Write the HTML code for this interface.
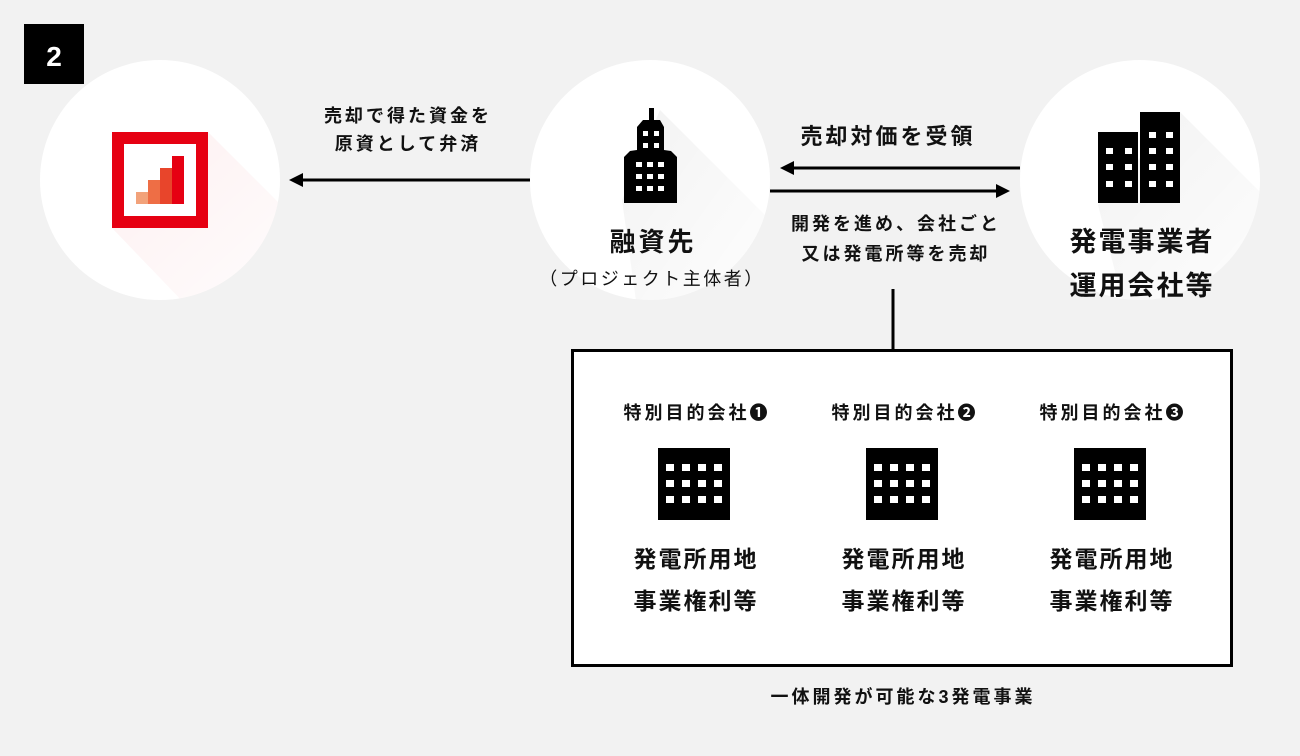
<!DOCTYPE html>
<html><head><meta charset="utf-8"><style>
body{margin:0;width:1300px;height:756px;background:#f2f2f2;overflow:hidden;position:relative;font-family:"Liberation Sans","Noto Sans CJK JP",sans-serif;color:#111}
.a{position:absolute}
.t{position:absolute;font-weight:bold;text-align:center;white-space:nowrap}
</style></head><body>
<svg class="a" style="left:0;top:0" width="1300" height="756">
<defs>
<linearGradient id="sh" x1="0" y1="0" x2="1" y2="1"><stop offset="0" stop-color="#000" stop-opacity="0.05"/><stop offset="1" stop-color="#000" stop-opacity="0"/></linearGradient>
<linearGradient id="shr" x1="0" y1="0" x2="1" y2="1"><stop offset="0" stop-color="#e60012" stop-opacity="0.06"/><stop offset="1" stop-color="#e60012" stop-opacity="0"/></linearGradient>
<clipPath id="c1"><circle cx="160" cy="180" r="120"/></clipPath>
<clipPath id="c2"><circle cx="650" cy="180" r="120"/></clipPath>
<clipPath id="c3"><circle cx="1140" cy="180" r="120"/></clipPath>
</defs>
<rect x="24" y="24" width="60" height="60" fill="#000"/>
<text x="54" y="66" font-size="28" font-weight="bold" fill="#fff" text-anchor="middle" font-family="Liberation Sans, sans-serif">2</text>
<circle cx="160" cy="180" r="120" fill="#fff"/>
<circle cx="650" cy="180" r="120" fill="#fff"/>
<circle cx="1140" cy="180" r="120" fill="#fff"/>
<polygon clip-path="url(#c1)" points="208,132 330,254 330,330 210,330 112,228" fill="url(#shr)"/>
<polygon clip-path="url(#c2)" points="660,110 780,230 780,330 640,330 622,200" fill="url(#sh)"/>
<polygon clip-path="url(#c3)" points="1180,112 1300,232 1300,330 1130,330 1098,205" fill="url(#sh)"/>
<rect x="112" y="132" width="96" height="96" fill="#e60012"/>
<rect x="124" y="144" width="72" height="72" fill="#fff"/>
<rect x="136" y="192" width="12" height="12" fill="#f2a27a"/>
<rect x="148" y="180" width="12" height="24" fill="#ee6e45"/>
<rect x="160" y="168" width="12" height="36" fill="#e8452b"/>
<rect x="172" y="156" width="12" height="48" fill="#e60012"/>
<g fill="#000">
<rect x="649" y="108" width="5" height="12"/>
<path d="M643,120 L660,120 L664,127 L664,150 L671,151 L677,157 L677,203 L624,203 L624,157 L630,151 L637,150 L637,127 Z"/>
</g>
<g fill="#fff">
<rect x="643" y="131" width="5" height="5"/><rect x="654" y="131" width="5" height="5"/>
<rect x="643" y="143" width="5" height="5"/><rect x="654" y="143" width="5" height="5"/>
<rect x="636" y="162" width="6" height="5"/><rect x="647" y="162" width="6" height="5"/><rect x="658" y="162" width="6" height="5"/>
<rect x="636" y="174" width="6" height="5"/><rect x="647" y="174" width="6" height="5"/><rect x="658" y="174" width="6" height="5"/>
<rect x="636" y="186" width="6" height="5"/><rect x="647" y="186" width="6" height="5"/><rect x="658" y="186" width="6" height="5"/>
</g>
<rect x="1098" y="132" width="40" height="71" fill="#000"/>
<rect x="1140" y="112" width="40" height="91" fill="#000"/>
<g fill="#fff">
<rect x="1106" y="148" width="7" height="6"/><rect x="1125" y="148" width="7" height="6"/>
<rect x="1106" y="164" width="7" height="6"/><rect x="1125" y="164" width="7" height="6"/>
<rect x="1106" y="181" width="7" height="6"/><rect x="1125" y="181" width="7" height="6"/>
<rect x="1149" y="132" width="7" height="6"/><rect x="1166" y="132" width="7" height="6"/>
<rect x="1149" y="148" width="7" height="6"/><rect x="1166" y="148" width="7" height="6"/>
<rect x="1149" y="164" width="7" height="6"/><rect x="1166" y="164" width="7" height="6"/>
<rect x="1149" y="181" width="7" height="6"/><rect x="1166" y="181" width="7" height="6"/>
</g>
<g stroke="#000" stroke-width="3">
<line x1="530" y1="180" x2="300" y2="180"/>
<line x1="1020" y1="168" x2="792" y2="168"/>
<line x1="770" y1="191" x2="998" y2="191"/>
<line x1="893" y1="289" x2="893" y2="350"/>
</g>
<polygon points="289,180 303,173 303,187" fill="#000"/>
<polygon points="780,168 794,161 794,175" fill="#000"/>
<polygon points="1010,191 996,184 996,198" fill="#000"/>
<rect x="572.5" y="350.5" width="659" height="315" fill="#fff" stroke="#000" stroke-width="3"/>
<g fill="#000">
<rect x="658" y="448" width="72" height="72"/>
<rect x="866" y="448" width="72" height="72"/>
<rect x="1074" y="448" width="72" height="72"/>
</g>
<g fill="#fff">
<g id="win">
<rect x="666" y="464" width="8" height="7"/><rect x="682" y="464" width="8" height="7"/><rect x="698" y="464" width="8" height="7"/><rect x="714" y="464" width="8" height="7"/>
<rect x="666" y="480" width="8" height="7"/><rect x="682" y="480" width="8" height="7"/><rect x="698" y="480" width="8" height="7"/><rect x="714" y="480" width="8" height="7"/>
<rect x="666" y="496" width="8" height="7"/><rect x="682" y="496" width="8" height="7"/><rect x="698" y="496" width="8" height="7"/><rect x="714" y="496" width="8" height="7"/>
</g>
<use href="#win" x="208"/>
<use href="#win" x="416"/>
</g>
</svg>
<div class="t" style="left:300px;top:102px;width:210px;font-size:18px;line-height:28px;letter-spacing:3px;padding-left:3px">売却で得た資金を<br>原資として弁済</div>
<div class="t" style="left:780px;top:119px;width:210px;font-size:22px;letter-spacing:3px;padding-left:3px">売却対価を受領</div>
<div class="t" style="left:770px;top:209px;width:246px;font-size:18px;line-height:30px;letter-spacing:3px;padding-left:3px">開発を進め、会社ごと<br>又は発電所等を売却</div>
<div class="t" style="left:550px;top:222px;width:200px;font-size:26px;letter-spacing:3px;padding-left:3px">融資先</div>
<div class="t" style="left:530px;top:265px;width:240px;font-size:18px;font-weight:normal;letter-spacing:2.5px;padding-left:2px">（プロジェクト主体者）</div>
<div class="t" style="left:1040px;top:220px;width:200px;font-size:27px;line-height:44px;letter-spacing:2px;padding-left:2px">発電事業者<br>運用会社等</div>
<div class="t" style="left:594px;top:399px;width:200px;font-size:18px;letter-spacing:3px;padding-left:3px">特別目的会社❶</div>
<div class="t" style="left:802px;top:399px;width:200px;font-size:18px;letter-spacing:3px;padding-left:3px">特別目的会社❷</div>
<div class="t" style="left:1010px;top:399px;width:200px;font-size:18px;letter-spacing:3px;padding-left:3px">特別目的会社❸</div>
<div class="t" style="left:594px;top:538px;width:200px;font-size:23px;line-height:42px;letter-spacing:2px;padding-left:2px">発電所用地<br>事業権利等</div>
<div class="t" style="left:802px;top:538px;width:200px;font-size:23px;line-height:42px;letter-spacing:2px;padding-left:2px">発電所用地<br>事業権利等</div>
<div class="t" style="left:1010px;top:538px;width:200px;font-size:23px;line-height:42px;letter-spacing:2px;padding-left:2px">発電所用地<br>事業権利等</div>
<div class="t" style="left:700px;top:683px;width:400px;font-size:18px;letter-spacing:3px;padding-left:3px">一体開発が可能な3発電事業</div>
</body></html>
